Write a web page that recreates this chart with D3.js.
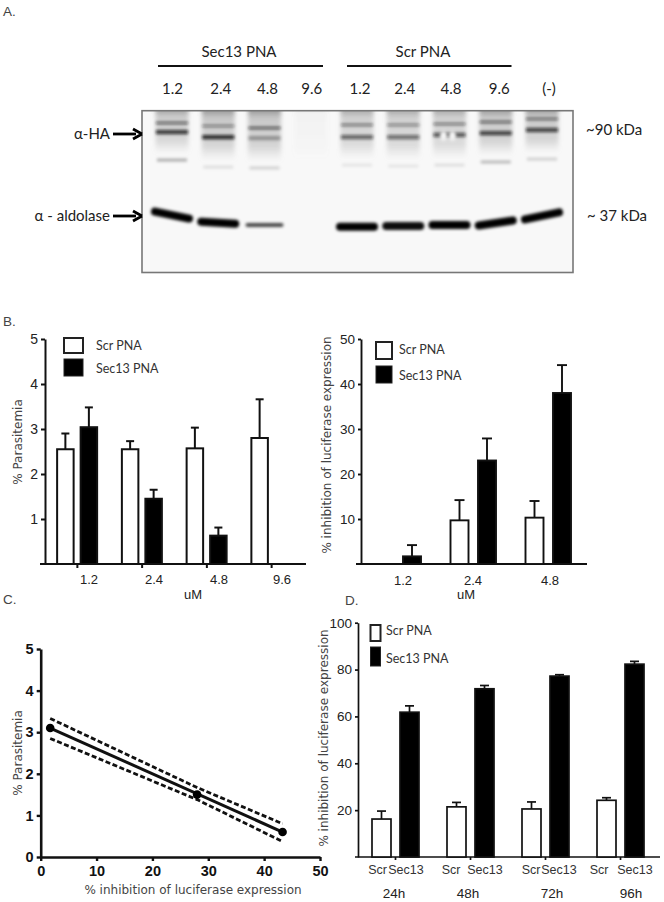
<!DOCTYPE html>
<html><head><meta charset="utf-8">
<script src="https://cdnjs.cloudflare.com/ajax/libs/d3/7.8.5/d3.min.js"></script>
<style>html,body{margin:0;padding:0;background:#fff}svg{display:block}</style>
</head><body><div id="chart"></div>
<script>
// ---- Panel A: blot lanes (band migration in % of blot height, intensity 0-1)
const laneDoses = ["1.2","2.4","4.8","9.6","1.2","2.4","4.8","9.6","(-)"];
const bandUpperA = [7.6,9.5,10.7,null,8.8,8.8,8.2,7.0,5.1];
const bandUpperB = [13.2,16.3,16.9,null,16.3,16.3,15.0,13.8,11.9];
const bandFaint = [30.5,34.8,35.4,null,33.6,34.2,33.6,31.7,29.9];
const bandAldolase = [64.5,69.2,70.6,null,71.7,71.3,70.6,69.4,65.0];
const inkUpperA = [.6,.45,.65,0,.5,.45,.5,.6,.55];
const inkUpperB = [.8,.85,.3,0,.6,.55,.65,.75,.75];
const inkFaint = [.3,.1,.16,0,.08,.08,.1,.25,.16];
const inkAldolase = [1,1,.7,0,1,.95,1,1,1];
const inkSmear = [.55,.6,.6,.06,.5,.5,.5,.6,.6];
const tiltAldolase = [3.5,1,0,0,0,0,0,-2.5,-3.5];

// ---- Panel B, left: % parasitemia
const doses = ["1.2","2.4","4.8","9.6"];
const parScr = [2.55,2.55,2.57,2.8];
const parScrTop = [2.9,2.73,3.03,3.66];
const parSec = [3.04,1.45,0.63,null];
const parSecTop = [3.48,1.65,0.81,null];

// ---- Panel B, right: % inhibition
const inhDoses = ["1.2","2.4","4.8"];
const inhScr = [null,9.7,10.3];
const inhScrTop = [null,14.2,14.0];
const inhSec = [1.7,23,38];
const inhSecTop = [4.2,27.9,44.2];

// ---- Panel C: correlation
const corrX = [1.7,28,43.3];
const corrY = [3.1,1.5,0.6];
const corrUpper = [3.33,1.67,0.8];
const corrLower = [2.85,1.38,0.37];

// ---- Panel D: time course
const hours = ["24h","48h","72h","96h"];
const timeScr = [16.2,21.4,20.5,24.2];
const timeScrTop = [19.6,23.3,23.5,25.3];
const timeSec = [61.8,71.8,77.2,82.3];
const timeSecTop = [64.5,73.2,77.8,83.5];

const svg = d3.select("#chart").append("svg").attr("width",664).attr("height",902);
const LABEL = "Lato, 'Open Sans', sans-serif";
const AXIS = "'Liberation Sans', Arial, sans-serif";
const WIDE = "'DejaVu Sans', Verdana, sans-serif";
const defs = svg.append("defs");
defs.append("filter").attr("id","b1").attr("x","-20%").attr("y","-300%").attr("width","140%").attr("height","700%")
  .append("feGaussianBlur").attr("stdDeviation",1.5);
defs.append("filter").attr("id","b2").attr("x","-20%").attr("y","-20%").attr("width","140%").attr("height","140%")
  .append("feGaussianBlur").attr("stdDeviation",2.2);
defs.append("clipPath").attr("id","blotClip").append("rect").attr("x",142).attr("y",110.7).attr("width",431).attr("height",161.8);
const smear = defs.append("linearGradient").attr("id","smear").attr("x1",0).attr("x2",0).attr("y1",0).attr("y2",1);
smear.append("stop").attr("offset","0%").attr("stop-color","#333").attr("stop-opacity",1);
smear.append("stop").attr("offset","20%").attr("stop-color","#888").attr("stop-opacity",.7);
smear.append("stop").attr("offset","72%").attr("stop-color","#999").attr("stop-opacity",.6);
smear.append("stop").attr("offset","100%").attr("stop-color","#aaa").attr("stop-opacity",0);

function txt(g,x,y,s,size,opt={}){
  const t=g.append("text").attr("x",x).attr("y",y).text(s).attr("font-size",size)
    .attr("font-family",opt.font||LABEL).attr("fill",opt.fill||"#222")
    .attr("text-anchor",opt.anchor||"middle").attr("dominant-baseline","central");
  if(opt.weight)t.attr("font-weight",opt.weight);
  if(opt.rot)t.attr("transform",`rotate(${opt.rot} ${x} ${y})`);
  if(opt.ls)t.attr("letter-spacing",opt.ls);
  return t;
}

// panel letters
[["A.",3,11],["B.",3,321],["C.",3,599],["D.",345,600]].forEach(d=>txt(svg,d[1],d[2],d[0],13.5,{anchor:"start",font:AXIS,fill:"#444"}));

// ======== Panel A
const gA = svg.append("g");
const laneX = d3.scalePoint().domain(d3.range(laneDoses.length)).range([172,542]);
const blotY = d3.scaleLinear().domain([0,100]).range([110.7,272.5]);
gA.append("rect").attr("x",142).attr("y",110.7).attr("width",431).attr("height",161.8).attr("fill","#f8f8f8");
const blot = gA.append("g").attr("clip-path","url(#blotClip)");
const lanes = d3.range(laneDoses.length);
blot.append("g").attr("filter","url(#b2)").selectAll("rect").data(lanes).join("rect")
  .attr("x",i=>laneX(i)-16.5).attr("width",33)
  .attr("y",blotY(-2)).attr("height",i=>(bandFaint[i]===null?blotY(30):blotY(bandFaint[i]-4))-blotY(-2))
  .attr("fill","url(#smear)").attr("opacity",i=>inkSmear[i]);
function bands(values,inks,width,half){
  blot.append("g").attr("filter","url(#b1)").selectAll("line").data(lanes.filter(i=>values[i]!==null)).join("line")
    .attr("x1",i=>laneX(i)-half).attr("x2",i=>laneX(i)+half)
    .attr("y1",i=>blotY(values[i])).attr("y2",i=>blotY(values[i]))
    .attr("stroke","#111").attr("stroke-width",width).attr("stroke-opacity",i=>inks[i]);
}
bands(bandUpperA,inkUpperA,2.6,16);
bands(bandUpperB,inkUpperB,4.2,16);
bands(bandFaint,inkFaint,3,15);
blot.append("g").attr("filter","url(#b1)").selectAll("line").data(lanes.filter(i=>bandAldolase[i]!==null)).join("line")
  .attr("x1",i=>laneX(i)-17).attr("x2",i=>laneX(i)+17)
  .attr("y1",i=>blotY(bandAldolase[i])-tiltAldolase[i]).attr("y2",i=>blotY(bandAldolase[i])+tiltAldolase[i])
  .attr("stroke","#050505").attr("stroke-linecap","round")
  .attr("stroke-width",i=>inkAldolase[i]<.9?4:8).attr("stroke-opacity",i=>inkAldolase[i]);
// damaged spot on the 4.8 Scr lane
blot.append("g").attr("filter","url(#b1)").selectAll("ellipse").data([-6,3]).join("ellipse")
  .attr("cx",d=>laneX(6)+d).attr("cy",blotY(bandUpperB[6])+1).attr("rx",3.5).attr("ry",5).attr("fill","#f4f4f4");
gA.append("rect").attr("x",142).attr("y",110.7).attr("width",431).attr("height",161.8).attr("fill","none").attr("stroke","#777").attr("stroke-width",1.6);

txt(gA,239,51,"Sec13 PNA",15);
txt(gA,423,51,"Scr PNA",15);
[[158,323],[347,511.5]].forEach(d=>gA.append("line").attr("x1",d[0]).attr("x2",d[1]).attr("y1",66).attr("y2",66).attr("stroke","#111").attr("stroke-width",1.8));
const laneLabelShift=[.5,2.5,3,1,3,1.5,1.5,3.5,7];
laneDoses.forEach((d,i)=>txt(gA,laneX(i)+laneLabelShift[i],88,d,15));
txt(gA,110,133,"α-HA",15,{anchor:"end"});
txt(gA,110,215,"α - aldolase",15,{anchor:"end"});
function arrow(y){
  gA.append("line").attr("x1",113).attr("x2",136).attr("y1",y).attr("y2",y).attr("stroke","#000").attr("stroke-width",2.8);
  gA.append("path").attr("d",`M142,${y} L133,${y-5} M142,${y} L133,${y+5}`).attr("stroke","#000").attr("stroke-width",2.8).attr("fill","none");
}
arrow(134);arrow(216);
txt(gA,586,129,"~90 kDa",15,{anchor:"start"});
txt(gA,587,215,"~ 37 kDa",15,{anchor:"start"});

// ======== bar panels
function barPanel(o){
  const g=svg.append("g");
  const x=d3.scaleBand().domain(o.groups).range(o.xRange).padding(0);
  const y=d3.scaleLinear().domain(o.yDomain).range([o.y0,o.y1]);
  const axY=g.append("g").attr("transform",`translate(${o.xRange[0]},0)`)
    .call(d3.axisLeft(y).tickValues(o.yTicks).tickFormat(d3.format("d")).tickSize(o.yTickLen).tickSizeOuter(0));
  axY.select(".domain").attr("stroke","#111").attr("stroke-width",o.sw);
  axY.selectAll(".tick line").attr("stroke","#111").attr("stroke-width",o.sw);
  axY.selectAll("text").attr("font-family",AXIS).attr("font-size",o.yFont).attr("fill","#222");
  const axX=g.append("g").attr("transform",`translate(0,${o.y0})`)
    .call(d3.axisBottom(x).tickSize(o.xTickLen).tickSizeOuter(0).tickFormat(""));
  axX.select(".domain").remove();
  axX.selectAll(".tick line").attr("stroke","#111").attr("stroke-width",o.sw);
  g.append("line").attr("x1",o.baseLine[0]).attr("x2",o.baseLine[1]).attr("y1",o.y0).attr("y2",o.y0).attr("stroke","#111").attr("stroke-width",o.sw);
  const series=[
    {v:o.scr,t:o.scrTop,dx:o.dxScr,fill:"#fff"},
    {v:o.sec,t:o.secTop,dx:o.dxSec,fill:"#000"}
  ];
  series.forEach(s=>{
    const idx=d3.range(o.groups.length).filter(i=>s.v[i]!==null);
    const cx=i=>x(o.groups[i])+x.bandwidth()/2+s.dx;
    g.append("g").selectAll("line").data(idx).join("line")
      .attr("x1",cx).attr("x2",cx).attr("y1",i=>y(s.v[i])).attr("y2",i=>y(s.t[i]))
      .attr("stroke","#111").attr("stroke-width",o.sw);
    g.append("g").selectAll("line").data(idx).join("line")
      .attr("x1",i=>cx(i)-o.cap).attr("x2",i=>cx(i)+o.cap).attr("y1",i=>y(s.t[i])).attr("y2",i=>y(s.t[i]))
      .attr("stroke","#111").attr("stroke-width",o.sw);
    g.append("g").selectAll("rect").data(idx).join("rect")
      .attr("x",i=>cx(i)-o.barW/2).attr("width",o.barW)
      .attr("y",i=>y(s.v[i])).attr("height",i=>y(0)-y(s.v[i]))
      .attr("fill",s.fill).attr("stroke","#111").attr("stroke-width",o.sw);
  });
  return {g,x,y};
}
function legend(g,l){
  g.append("rect").attr("x",l.x).attr("y",l.y1).attr("width",l.w).attr("height",l.h1).attr("fill","#fff").attr("stroke","#222").attr("stroke-width",2);
  g.append("rect").attr("x",l.x).attr("y",l.y2).attr("width",l.w).attr("height",l.h2).attr("fill","#000").attr("stroke","#222").attr("stroke-width",1);
  txt(g,l.tx,l.ty1,"Scr PNA",l.size,{anchor:"start",fill:"#333"});
  txt(g,l.tx,l.ty2,"Sec13 PNA",l.size,{anchor:"start",fill:"#333"});
}

// Panel B left
const bl=barPanel({groups:doses,xRange:[45,304],yDomain:[0,5],y0:564,y1:339,yTicks:[1,2,3,4,5],yTickLen:4,xTickLen:4,yFont:14,
  baseLine:[40,306],scr:parScr,scrTop:parScrTop,sec:parSec,secTop:parSecTop,dxScr:-12,dxSec:11.5,barW:16.5,cap:4,sw:2});
legend(bl.g,{x:64,y1:338,w:19,h1:15,y2:359,h2:17,tx:96,ty1:345,ty2:368,size:12.5});
const blLabels=[89,154,219,282];
doses.forEach((d,i)=>txt(bl.g,blLabels[i],579,d,13,{font:AXIS}));
txt(bl.g,193,594,"uM",13,{font:AXIS});
txt(bl.g,18,442,"% Parasitemia",12,{font:WIDE,rot:-90,fill:"#444"});

// Panel B right
const br=barPanel({groups:inhDoses,xRange:[361,586],yDomain:[0,50],y0:564,y1:339,yTicks:[10,20,30,40,50],yTickLen:3,xTickLen:0,yFont:13.5,
  baseLine:[356,587],scr:inhScr,scrTop:inhScrTop,sec:inhSec,secTop:inhSecTop,dxScr:-14,dxSec:13.5,barW:18,cap:5,sw:1.9});
legend(br.g,{x:376,y1:342,w:16,h1:17,y2:366,h2:17,tx:399,ty1:349,ty2:375,size:12.5});
const brLabels=[403,473,550];
inhDoses.forEach((d,i)=>txt(br.g,brLabels[i],580,d,13,{font:AXIS}));
txt(br.g,466,594,"uM",13,{font:AXIS});
txt(br.g,327,445,"% inhibition of luciferase expression",12,{font:WIDE,rot:-90,fill:"#444"});

// Panel C
const gC=svg.append("g");
const cx=d3.scaleLinear().domain([0,50]).range([40.7,320]);
const cy=d3.scaleLinear().domain([0,5]).range([857,649]);
const axCy=gC.append("g").attr("transform","translate(40.7,0)").call(d3.axisLeft(cy).ticks(5).tickFormat(d3.format("d")).tickSize(4).tickSizeOuter(0));
const axCx=gC.append("g").attr("transform","translate(0,857)").call(d3.axisBottom(cx).ticks(5).tickSize(4).tickSizeOuter(0));
[axCy,axCx].forEach(a=>{
  a.select(".domain").attr("stroke","#111").attr("stroke-width",2.6);
  a.selectAll(".tick line").attr("stroke","#111").attr("stroke-width",2.4);
  a.selectAll("text").attr("font-family",AXIS).attr("font-size",14.5).attr("font-weight","bold").attr("fill","#111");
});
axCx.selectAll("text").attr("dy","0.85em");
const line=d3.line().x(d=>cx(d[0])).y(d=>cy(d[1]));
[corrUpper,corrLower].forEach(b=>gC.append("path").attr("d",line(corrX.map((v,i)=>[v,b[i]])))
  .attr("fill","none").attr("stroke","#111").attr("stroke-width",2.8).attr("stroke-dasharray","5 2.5"));
gC.append("path").attr("d",line([[corrX[0],corrY[0]],[corrX[2],corrY[2]]])).attr("fill","none").attr("stroke","#111").attr("stroke-width",3);
gC.selectAll("circle").data(corrX).join("circle").attr("cx",d=>cx(d)).attr("cy",(d,i)=>cy(corrY[i])).attr("r",4.3).attr("fill","#000");
txt(gC,18,753,"% Parasitemia",12,{font:WIDE,rot:-90,fill:"#444"});
txt(gC,193,890,"% inhibition of luciferase expression",12,{font:WIDE,fill:"#444"});

// Panel D
const gd=barPanel({groups:hours,xRange:[358,658],yDomain:[0,100],y0:857,y1:622.7,yTicks:[20,40,60,80,100],yTickLen:3,xTickLen:3,yFont:13.5,
  baseLine:[355,660],scr:timeScr,scrTop:timeScrTop,sec:timeSec,secTop:timeSecTop,dxScr:-14,dxSec:14,barW:19,cap:4.5,sw:1.7});
legend(gd.g,{x:370.5,y1:625,w:10,h1:16,y2:647,h2:19,tx:386,ty1:630,ty2:658,size:12.5});
const scrLabelShift=[-18,-19.5,-14.5,-21.5], secLabelShift=[10.5,14.5,13.5,14.5], hourLabelShift=[-1.5,-2.5,6.5,10.5];
hours.forEach((h,i)=>{
  const c=gd.x(h)+gd.x.bandwidth()/2;
  txt(gd.g,c+scrLabelShift[i],870,"Scr",12.5,{font:AXIS,fill:"#333"});
  txt(gd.g,c+secLabelShift[i],870,"Sec13",12.5,{font:AXIS,fill:"#333"});
  txt(gd.g,c+hourLabelShift[i],893,h,13.5,{font:AXIS,fill:"#222"});
});
txt(gd.g,324,738,"% inhibition of luciferase expression",12,{font:WIDE,rot:-90,fill:"#444"});
</script></body></html>
